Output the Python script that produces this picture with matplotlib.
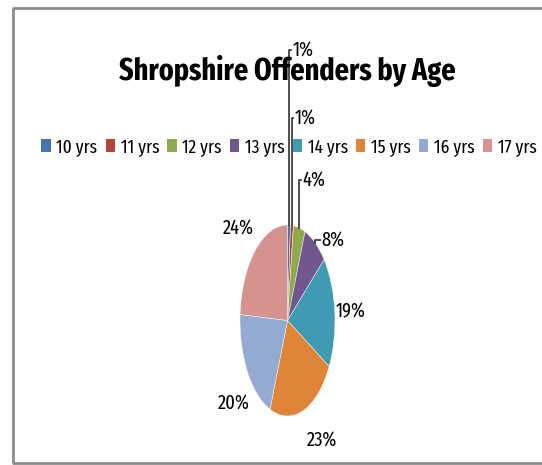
"""Shropshire offenders by age - Excel style elliptical pie."""
import numpy as np
import matplotlib
matplotlib.use("Agg")
import matplotlib.pyplot as plt
from matplotlib.patches import Patch
from matplotlib.lines import Line2D

ages = ["10 yrs", "11 yrs", "12 yrs", "13 yrs", "14 yrs", "15 yrs", "16 yrs", "17 yrs"]
shares = [1, 1, 4, 8, 19, 23, 20, 24]
colors = ["#4575B0", "#B5443F", "#8FAA4C", "#71568F", "#3F9AB2", "#E0843A", "#95AAD3", "#D49290"]

# label placement (pie-axes units) and whether a leader line is drawn
label_pos = [(0.10, 2.83), (0.15, 2.12), (0.32, 1.47), (0.72, 0.84),
             (1.32, 0.09), (0.73, -1.25), (-1.14, -0.86), (-1.04, 0.97)]
leaders = [True, True, True, True, False, False, False, False]

plt.rcParams["font.family"] = ["Fira Sans Extra Condensed", "PT Sans Narrow", "DejaVu Sans"]

W, H = 542, 465
fig = plt.figure(figsize=(W / 100, H / 100), dpi=100)
rend = fig.canvas.get_renderer()

# chart frame (left, top, bottom edges visible)
frame = Line2D([1.0, 13 / W, 13 / W, 1.0], [1 - 8 / H, 1 - 8 / H, 1 - 463 / H, 1 - 463 / H],
               transform=fig.transFigure, color="#8c8c8c", lw=2)
fig.add_artist(frame)

title = fig.text(287 / W, 1 - 71 / H, "Shropshire Offenders by Age", ha="center", va="center",
                 fontsize=24, fontweight="bold", color="black")
# fit title width to the reference (about 337 px)
tw = title.get_window_extent(rend).width
title.set_fontsize(24 * 337 / tw)

cx, cy, rx, ry = 287.5, 320.5, 47.5, 95.5
ax = fig.add_axes([(cx - rx) / W, 1 - (cy + ry) / H, 2 * rx / W, 2 * ry / H])
wedges, _ = ax.pie(shares, colors=colors, startangle=90, counterclock=False,
                   wedgeprops=dict(edgecolor="white", linewidth=0.3))
ax.set_aspect("auto")
ax.set_xlim(-1, 1)
ax.set_ylim(-1, 1)
ax.axis("off")

for w, v, (lx, ly), lead in zip(wedges, shares, label_pos, leaders):
    mid = np.deg2rad((w.theta1 + w.theta2) / 2)
    if lead:
        px, py = np.cos(mid), np.sin(mid)
        ax.plot([px, px, lx - 0.03], [py, ly, ly], color="#404040", lw=1.3,
                clip_on=False, zorder=5)
        ax.text(lx, ly, f"{v}%", ha="left", va="center", fontsize=14.5, clip_on=False, zorder=6)
    else:
        ax.text(lx, ly, f"{v}%", ha="center", va="center", fontsize=14.5, clip_on=False)

handles = [Patch(facecolor=c, edgecolor="none") for c in colors]
leg_kw = dict(loc="center", bbox_to_anchor=(289 / W, 1 - 147 / H), ncol=8, frameon=False,
              fontsize=13.5, handlelength=0.5, handleheight=0.7, handletextpad=0.3,
              borderaxespad=0, borderpad=0)
leg = fig.legend(handles, ages, columnspacing=1.0, **leg_kw)
# stretch column spacing so the legend spans about 495 px, as in the reference
lw_px = leg.get_window_extent(rend).width
gap = 1.0 + (495 - lw_px) / 7 / (13.5 * 100 / 72)
leg.remove()
fig.legend(handles, ages, columnspacing=gap, **leg_kw)

fig.savefig("out.png", dpi=100)
